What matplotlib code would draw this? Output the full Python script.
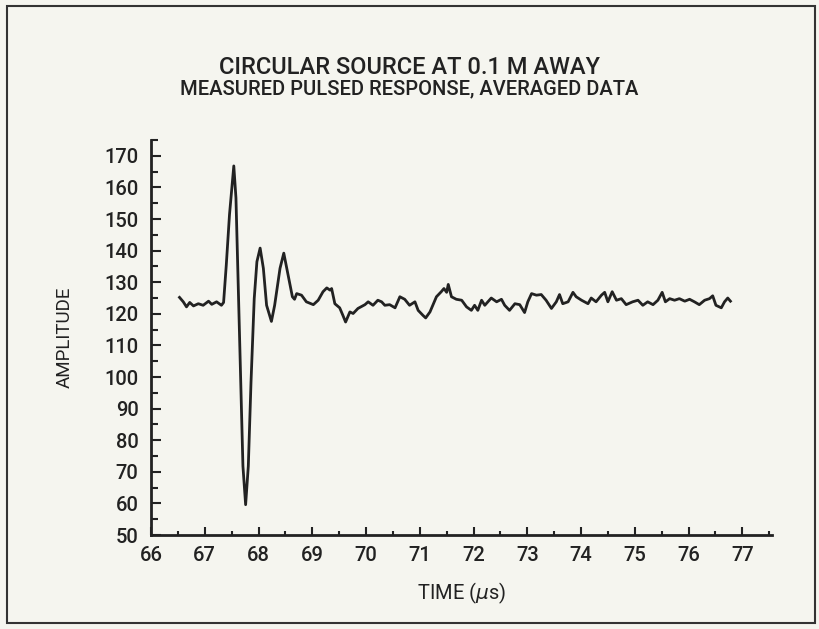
import matplotlib
matplotlib.use("Agg")
from matplotlib import pyplot as plt
from matplotlib.ticker import MultipleLocator
from matplotlib.patches import Rectangle

# time in microseconds, amplitude
time_us = [66.53, 66.60, 66.66, 66.72, 66.79, 66.88, 66.97, 67.07, 67.13, 67.22,
           67.31, 67.35, 67.40, 67.46, 67.54, 67.58, 67.62, 67.67, 67.71, 67.76,
           67.81, 67.86, 67.92, 67.97, 68.03, 68.09, 68.15, 68.24, 68.30, 68.40,
           68.47, 68.55, 68.63, 68.67, 68.71, 68.80, 68.89, 69.02, 69.11, 69.20,
           69.27, 69.33, 69.36, 69.42, 69.51, 69.57, 69.62, 69.70, 69.76, 69.85,
           69.98, 70.04, 70.13, 70.22, 70.29, 70.35, 70.44, 70.54, 70.63, 70.72,
           70.81, 70.91, 70.97, 71.06, 71.11, 71.19, 71.31, 71.40, 71.45, 71.50,
           71.53, 71.59, 71.68, 71.78, 71.87, 71.96, 72.02, 72.08, 72.15, 72.21,
           72.33, 72.43, 72.52, 72.58, 72.67, 72.77, 72.86, 72.95, 73.01, 73.08,
           73.17, 73.26, 73.35, 73.45, 73.54, 73.60, 73.66, 73.76, 73.85, 73.91,
           74.01, 74.13, 74.19, 74.28, 74.38, 74.44, 74.50, 74.58, 74.66, 74.75,
           74.84, 74.96, 75.06, 75.15, 75.24, 75.34, 75.43, 75.51, 75.57, 75.65,
           75.74, 75.83, 75.93, 76.02, 76.11, 76.20, 76.30, 76.39, 76.45, 76.51,
           76.61, 76.67, 76.73, 76.78]
amplitude = [125.2, 123.8, 122.2, 123.6, 122.5, 123.2, 122.7, 124.0, 123.0, 123.8,
             122.7, 123.6, 135.4, 151.4, 166.8, 156.7, 130.2, 98.3, 71.8, 59.6,
             71.8, 98.3, 124.8, 136.5, 140.8, 134.4, 122.7, 117.6, 122.7, 134.4,
             139.2, 132.3, 125.4, 124.6, 126.4, 125.9, 123.8, 122.9, 124.3, 127.0,
             128.2, 127.5, 128.0, 123.2, 121.9, 119.5, 117.4, 120.6, 120.1, 121.7,
             122.9, 123.8, 122.7, 124.3, 123.8, 122.7, 122.9, 121.9, 125.4, 124.6,
             122.7, 123.8, 121.1, 119.5, 118.7, 120.6, 125.4, 127.0, 128.0, 126.8,
             129.3, 125.4, 124.6, 124.3, 122.2, 121.1, 122.7, 121.1, 124.3, 122.7,
             125.0, 123.8, 124.6, 122.7, 121.1, 123.2, 122.9, 120.4, 123.8, 126.4,
             125.9, 126.1, 124.3, 121.7, 123.8, 126.1, 123.2, 123.8, 126.8, 125.4,
             124.3, 123.2, 125.0, 123.8, 125.9, 126.8, 123.8, 127.0, 124.3, 124.8,
             122.9, 123.8, 124.3, 122.7, 123.8, 122.9, 124.3, 126.8, 123.8, 124.8,
             124.3, 124.8, 124.0, 124.6, 123.8, 122.9, 124.3, 124.8, 125.7, 122.7,
             121.9, 123.8, 125.0, 124.0]

plt.rcParams['font.family'] = ['Roboto', 'Liberation Sans', 'DejaVu Sans']
plt.rcParams['font.weight'] = 'medium'
ink = '#222222'
bg = '#f5f5ef'

fig = plt.figure(figsize=(8.19, 6.29), dpi=100, facecolor=bg)
ax = fig.add_axes([0.1844, 0.1494, 0.758, 0.628], facecolor=bg)

ax.plot(time_us, amplitude, color=ink, linewidth=2.0)

ax.set_xlim(66, 77.55)
ax.set_ylim(50, 175)
ax.xaxis.set_major_locator(MultipleLocator(1))
ax.xaxis.set_minor_locator(MultipleLocator(0.5))
ax.yaxis.set_minor_locator(MultipleLocator(5))
ax.set_yticks(range(50, 171, 10))

for s in ['top', 'right']:
    ax.spines[s].set_visible(False)
for s in ['left', 'bottom']:
    ax.spines[s].set_linewidth(2.0)
    ax.spines[s].set_color(ink)

ax.tick_params(axis='both', which='both', direction='in', color=ink, width=1.5)
ax.tick_params(axis='x', which='major', length=6, pad=8, labelsize=14.5, labelcolor=ink)
ax.tick_params(axis='x', which='minor', length=3)
ax.tick_params(axis='y', which='major', length=7, pad=9, labelsize=14.5, labelcolor=ink)
ax.tick_params(axis='y', which='minor', length=5)

ax.set_xlabel(r'TIME ($\mu$s)', fontsize=14.5, color=ink, labelpad=11)
ax.set_ylabel('AMPLITUDE', fontsize=13.5, color=ink, labelpad=22)

fig.text(0.5, 1 - 67 / 629, 'CIRCULAR SOURCE AT 0.1 M AWAY', ha='center', va='center',
         fontsize=17, color=ink)
fig.text(0.5, 1 - 89 / 629, 'MEASURED PULSED RESPONSE, AVERAGED DATA', ha='center',
         va='center', fontsize=14.5, color=ink)

fig.patches.append(Rectangle((7 / 819, 6 / 629), 808 / 819, 617 / 629,
                             transform=fig.transFigure, fill=False,
                             edgecolor='#333333', linewidth=1.5))

plt.savefig('out.png', dpi=100, facecolor=bg)
